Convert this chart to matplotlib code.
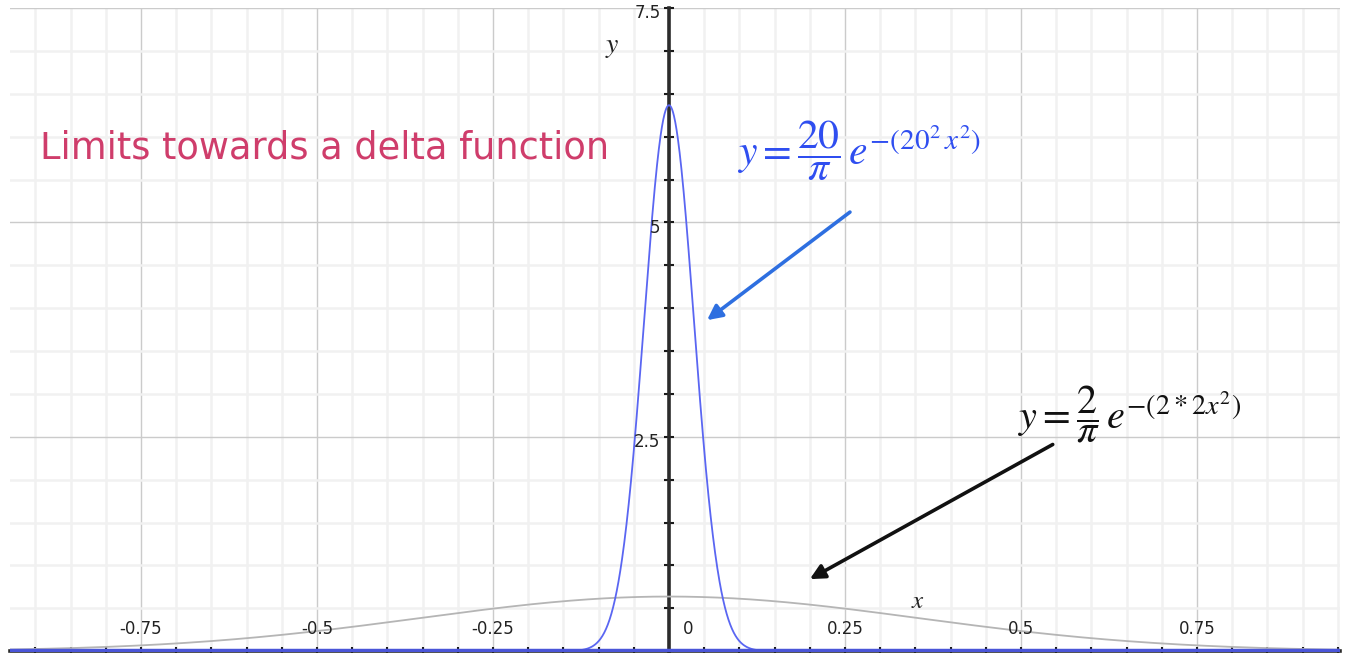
import matplotlib
matplotlib.use("Agg")
import matplotlib.pyplot as plt
import numpy as np
from matplotlib.ticker import MultipleLocator

plt.rcParams['mathtext.fontset'] = 'stix'

# Gaussians  y = (k/pi) * exp(-(a * x^2)), narrow one and wide one
amplitudes = [20, 2]
exponents = [400, 4]
curve_colors = ['#5a66f2', '#b5b5b5']

# axis tick labels drawn inside the plot
xtick_vals = [-0.75, -0.5, -0.25, 0, 0.25, 0.5, 0.75]
xtick_text = ['-0.75', '-0.5', '-0.25', '0', '0.25', '0.5', '0.75']
ytick_vals = [2.5, 5, 7.5]
ytick_text = ['2.5', '5', '7.5']

xmin, xmax = -0.936, 0.953
ymin, ymax = -0.01, 7.5

fig = plt.figure(figsize=(13.46, 6.53), dpi=100)
ax = fig.add_axes([10 / 1346, 1 / 653, 1330 / 1346, 644 / 653])
ax.set_xlim(xmin, xmax)
ax.set_ylim(ymin, ymax)

# grid
ax.xaxis.set_major_locator(MultipleLocator(0.25))
ax.xaxis.set_minor_locator(MultipleLocator(0.05))
ax.yaxis.set_major_locator(MultipleLocator(2.5))
ax.yaxis.set_minor_locator(MultipleLocator(0.5))
ax.grid(which='minor', color='#f1f1f1', lw=1.8, zorder=0)
ax.grid(which='major', color='#cbcbcb', lw=1.0, zorder=0)
ax.set_axisbelow(True)

# axes through the origin
for s in ['top', 'right']:
    ax.spines[s].set_visible(False)
ax.spines['left'].set_position(('data', 0))
ax.spines['left'].set_linewidth(2.6)
ax.spines['left'].set_color('#2b2b2b')
ax.spines['bottom'].set_position(('data', 0))
ax.spines['bottom'].set_linewidth(2.6)
ax.spines['bottom'].set_color('#2b2b2b')
ax.tick_params(which='both', direction='inout', length=7, width=1.5,
               color='#1a1a1a', labelleft=False, labelbottom=False)
ax.tick_params(axis='x', which='both', length=6)

x = np.linspace(xmin, xmax, 3000)
for k, a, c in zip(amplitudes[::-1], exponents[::-1], curve_colors[::-1]):
    y = k / np.pi * np.exp(-a * x ** 2)
    ax.plot(x, y, color=c, lw=1.3, zorder=3)

# blue curve along the x-axis
ax.axhline(0, color='#4a55d8', lw=3.2, zorder=4)

for v, t in zip(xtick_vals, xtick_text):
    xx = v + 0.027 if v == 0 else v
    ax.text(xx, 0.26, t, ha='center', va='center', fontsize=12,
            color='#222222', family='DejaVu Sans')
for v, t in zip(ytick_vals, ytick_text):
    ax.text(-0.012, v - 0.06, t, ha='right', va='center', fontsize=12,
            color='#222222', family='DejaVu Sans', clip_on=False)

ax.text(-0.081, 7.06, '$y$', fontsize=20, ha='center', va='center', color='#222222')
ax.text(0.354, 0.58, '$x$', fontsize=18, ha='center', va='center', color='#222222')

ax.text(-0.893, 5.87, 'Limits towards a delta function', fontsize=26.5,
        color='#cf3d6b', ha='left', va='center', family='DejaVu Sans')

ax.text(0.097, 5.83, r'$y=\dfrac{20}{\pi}\,e^{-\left(20^2\,x^2\right)}$',
        fontsize=30, color='#2f4ef0', ha='left', va='center')
ax.text(0.496, 2.76, r'$y=\dfrac{2}{\pi}\,e^{-\left(2*2x^2\right)}$',
        fontsize=29, color='#111111', ha='left', va='center')

ax.annotate('', xy=(0.054, 3.86), xytext=(0.257, 5.12),
            arrowprops=dict(arrowstyle='-|>', color='#2e6fe0', lw=2.6,
                            mutation_scale=22, shrinkA=0, shrinkB=0))
ax.annotate('', xy=(0.200, 0.84), xytext=(0.545, 2.41),
            arrowprops=dict(arrowstyle='-|>', color='#111111', lw=2.6,
                            mutation_scale=22, shrinkA=0, shrinkB=0))

fig.savefig('out.png', dpi=100)
